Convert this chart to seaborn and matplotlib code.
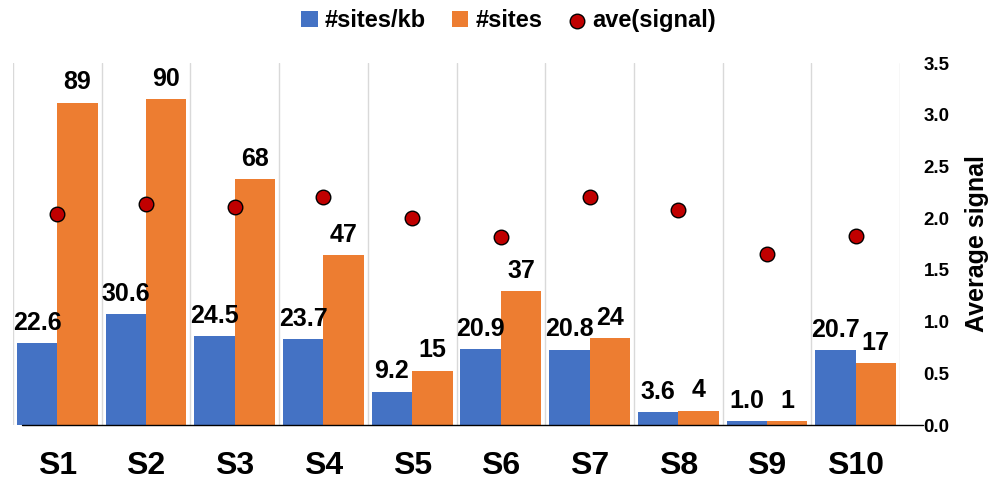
import numpy as np
import pandas as pd
import matplotlib
matplotlib.use("Agg")
import matplotlib.pyplot as plt
import seaborn as sns

categories = ["S1", "S2", "S3", "S4", "S5", "S6", "S7", "S8", "S9", "S10"]
sites_per_kb = [22.6, 30.6, 24.5, 23.7, 9.2, 20.9, 20.8, 3.6, 1.0, 20.7]
n_sites = [89, 90, 68, 47, 15, 37, 24, 4, 1, 17]
ave_signal = [2.04, 2.14, 2.11, 2.20, 2.00, 1.82, 2.20, 2.08, 1.65, 1.83]

series_names = ["#sites/kb", "#sites"]
colors = {"#sites/kb": "#4472C4", "#sites": "#ED7D31"}
dot_color = "#C00000"

sns.set_theme(style="white")
plt.rcParams["font.family"] = ["Liberation Sans", "DejaVu Sans"]
plt.rcParams["font.weight"] = "bold"
for key in ["text.color", "axes.labelcolor", "xtick.color", "ytick.color"]:
    plt.rcParams[key] = "black"

bars = pd.DataFrame({
    "category": categories * 2,
    "series": [series_names[0]] * len(categories) + [series_names[1]] * len(categories),
    "value": sites_per_kb + n_sites,
})
dots = pd.DataFrame({"category": categories, "signal": ave_signal})

fig = plt.figure(figsize=(9.91, 4.82), dpi=100)
ax = fig.add_axes([13 / 991, 1 - 425 / 482, 887 / 991, 362 / 482])

sns.barplot(data=bars, x="category", y="value", hue="series", palette=colors,
            saturation=1, width=0.91, gap=0, ax=ax, legend=True,
            edgecolor="none", errorbar=None)
ax.set_ylim(0, 100)
ax.set_xlim(-0.5, len(categories) - 0.5)
ax.set_yticks([])
ax.set_xlabel("")
ax.set_ylabel("")
for s in ax.spines.values():
    s.set_visible(False)

# vertical separators between categories
ax.set_xticks(np.arange(-0.5, len(categories), 1), minor=True)
ax.grid(which="minor", axis="x", color="#D9D9D9", linewidth=1.0)
ax.grid(which="major", visible=False)
ax.tick_params(axis="x", which="both", length=0, pad=19, labelsize=23)
for t in ax.get_xticklabels():
    t.set_fontweight("bold")

# value labels above bars
fmts = ["{:.1f}", "{:d}"]
for cont, fmt, vals in zip(ax.containers, fmts, [sites_per_kb, n_sites]):
    ax.bar_label(cont, labels=[fmt.format(v) for v in vals], padding=6,
                 fontsize=18, fontweight="bold", color="black")

# baseline
ax.axhline(0, xmin=0.01, xmax=1.026, color="black", linewidth=1.0,
           clip_on=False, zorder=5)

ax2 = ax.twinx()
sns.scatterplot(data=dots, x="category", y="signal", ax=ax2, color=dot_color,
                edgecolor="black", linewidth=1.0, s=110, zorder=6,
                label="ave(signal)", legend=True)
ax2.set_ylim(0, 3.5)
ticks = np.arange(0, 3.51, 0.5)
ax2.set_yticks(ticks)
ax2.set_yticklabels([f"{v:.1f}" for v in ticks], fontsize=13.5,
                    fontweight="bold")
ax2.tick_params(axis="y", length=0, pad=17)
ax2.set_ylabel("Average signal", fontsize=18, fontweight="bold", labelpad=11)
ax2.set_xlabel("")
for s in ax2.spines.values():
    s.set_visible(False)

h1, l1 = ax.get_legend_handles_labels()
h2, l2 = ax2.get_legend_handles_labels()
ax.get_legend().remove()
ax2.get_legend().remove()
fig.legend(h1 + h2, l1 + l2, loc="center", bbox_to_anchor=(0.513, 0.957),
           ncol=3, frameon=False, handlelength=0.7, handleheight=0.7,
           handletextpad=0.3, columnspacing=1.1,
           prop={"weight": "bold", "size": 17})

fig.savefig("out.png", dpi=100)
